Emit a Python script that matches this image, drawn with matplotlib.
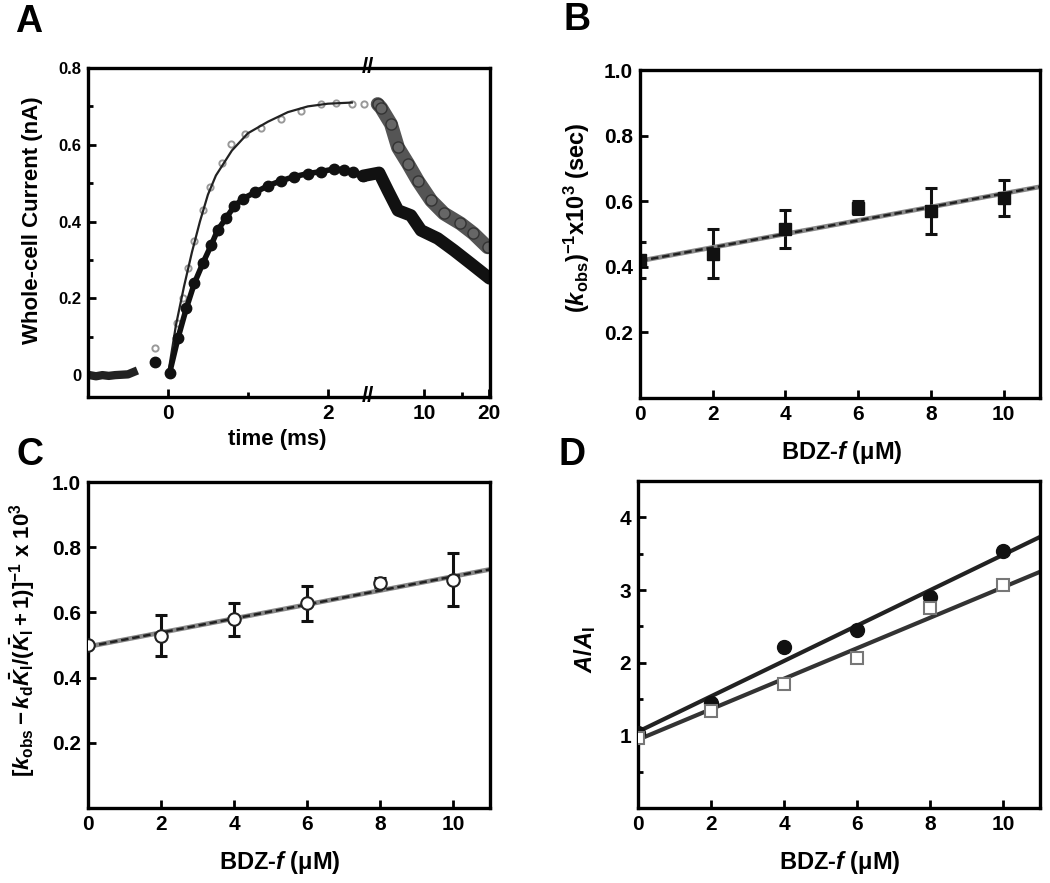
import numpy as np
import matplotlib
matplotlib.use('Agg')
import matplotlib.pyplot as plt

plt.rcParams['font.family'] = ['Liberation Sans', 'DejaVu Sans']
plt.rcParams['font.weight'] = 'bold'
plt.rcParams['mathtext.fontset'] = 'custom'
plt.rcParams['mathtext.rm'] = 'Liberation Sans:bold'
plt.rcParams['mathtext.it'] = 'Liberation Sans:bold:italic'
plt.rcParams['mathtext.bf'] = 'Liberation Sans:bold'

# ---- panel A: whole-cell current traces (time in ms) ----
base_t = [-0.98, -0.9, -0.82, -0.74, -0.66, -0.58, -0.5, -0.43]
base_i = [0.0, -0.003, 0.0, -0.002, 0.0, 0.001, 0.002, 0.008]

low_t = [-0.16, 0.02, 0.125, 0.23, 0.33, 0.44, 0.54, 0.62, 0.73, 0.83, 0.94, 1.09,
         1.25, 1.41, 1.58, 1.75, 1.91, 2.08, 2.2, 2.32, 2.44,
         6.19, 6.81, 7.58, 8.7, 9.7, 11.6, 13.8, 16.5, 20.2]
low_i = [0.034, 0.005, 0.096, 0.174, 0.239, 0.293, 0.338, 0.377, 0.41, 0.44, 0.46, 0.476,
         0.493, 0.506, 0.517, 0.525, 0.53, 0.537, 0.535, 0.528, 0.519,
         0.527, 0.48, 0.429, 0.416, 0.377, 0.356, 0.325, 0.291, 0.252]

up_rise_t = [-0.16, 0.11, 0.19, 0.25, 0.33, 0.44, 0.52, 0.67, 0.79, 0.96, 1.16, 1.41,
             1.66, 1.91, 2.1, 2.3, 2.45]
up_rise_i = [0.07, 0.135, 0.2, 0.28, 0.35, 0.43, 0.489, 0.553, 0.602, 0.628, 0.645, 0.667,
             0.688, 0.705, 0.709, 0.706, 0.706]

up_dec_t = [6.1, 6.33, 7.03, 7.58, 8.43, 9.38, 10.8, 12.4, 14.8, 17.0, 19.8]
up_dec_i = [0.706, 0.696, 0.654, 0.593, 0.551, 0.506, 0.455, 0.421, 0.395, 0.369, 0.333]

fit_a_t = [0.0, 0.1, 0.2, 0.3, 0.4, 0.5, 0.6, 0.8, 1.0, 1.25, 1.5, 1.75, 2.0, 2.3]
fit_a_i = [0.0, 0.13, 0.23, 0.32, 0.4, 0.47, 0.52, 0.585, 0.63, 0.66, 0.685, 0.7, 0.707, 0.71]

# ---- panel B ----
conc = [0, 2, 4, 6, 8, 10]
b_val = [0.42, 0.44, 0.515, 0.58, 0.57, 0.61]
b_err = [0.055, 0.075, 0.058, 0.02, 0.07, 0.055]
b_fit_x = [0, 11]
b_fit_y = [0.418, 0.644]

# ---- panel C ----
c_val = [0.5, 0.528, 0.579, 0.628, 0.689, 0.70]
c_err = [0.0, 0.063, 0.051, 0.053, 0.015, 0.081]
c_fit_x = [0, 11]
c_fit_y = [0.495, 0.732]

# ---- panel D ----
d_filled = [1.03, 1.44, 2.21, 2.45, 2.91, 3.54]
d_open = [0.96, 1.33, 1.70, 2.06, 2.75, 3.07]
d_fit_x = [0, 11]
d_fit_filled = [1.05, 3.73]
d_fit_open = [0.94, 3.25]

W, H = 1050, 883
fig = plt.figure(figsize=(10.5, 8.83), dpi=100)


def box(l, t, r, b):
    return [l / W, 1 - b / H, (r - l) / W, (b - t) / H]


def style(ax, size=15):
    for s in ax.spines.values():
        s.set_linewidth(2.4)
    ax.tick_params(which='major', direction='in', length=6, width=2, labelsize=size, pad=5)
    ax.tick_params(which='minor', direction='in', length=3.5, width=2)
    for lab in ax.get_xticklabels() + ax.get_yticklabels():
        lab.set_fontweight('bold')


# broken time axis: linear up to 2.5 ms, log from 5.5 ms onward
def fwd(t):
    t = np.asarray(t, float)
    with np.errstate(all='ignore'):
        r = 2.503 + 2.69 * np.log10(np.maximum(t, 5.5) / 5.5)
        g = 2.5 + (t - 2.5) * 1e-3
    return np.where(t <= 2.5, t, np.where(t < 5.5, g, r))


def inv(u):
    u = np.asarray(u, float)
    with np.errstate(all='ignore'):
        r = 5.5 * 10 ** ((np.minimum(u, 50) - 2.503) / 2.69)
        g = 2.5 + (u - 2.5) / 1e-3
    return np.where(u <= 2.5, u, np.where(u < 2.503, g, r))


axA = fig.add_axes(box(88, 68, 490, 397))
axA.set_xscale('function', functions=(fwd, inv))
axA.plot(base_t, base_i, '-', color='#222222', lw=6)
axA.plot(up_dec_t, up_dec_i, '-', color='#555555', lw=10, solid_capstyle='round')
axA.plot(up_dec_t, up_dec_i, 'o', mfc='#666666', mec='#333333', ms=8)
axA.plot(up_rise_t, up_rise_i, 'o', mfc='white', mec='#999999', ms=4.5, mew=1.4)
axA.plot(fit_a_t, fit_a_i, '-', color='#222222', lw=1.6)
axA.plot(low_t[1:21], low_i[1:21], '-', color='#111111', lw=4)
axA.plot(low_t[20:], low_i[20:], '-', color='#111111', lw=9, solid_capstyle='round')
axA.plot(low_t[:21], low_i[:21], 'o', color='#111111', ms=7.5)
axA.set_xlim(-1.0, 20.3)
axA.set_ylim(-0.057, 0.8)
axA.set_xticks([0, 2, 10, 20])
axA.set_xticklabels(['0', '2', '10', '20'])
axA.set_xticks([1, 15], minor=True)
axA.set_yticks([0, 0.2, 0.4, 0.6, 0.8])
axA.set_yticklabels(['0', '0.2', '0.4', '0.6', '0.8'])
axA.set_yticks([0.1, 0.3, 0.5, 0.7], minor=True)
style(axA)
axA.tick_params(axis='y', labelsize=12)
brk = (fwd(2.5) - fwd(-1.0)) / (fwd(20.3) - fwd(-1.0))
for yy in (0, 1):
    axA.text(float(brk), yy, '//', transform=axA.transAxes, ha='center', va='center',
             fontsize=16, fontweight='bold')

axB = fig.add_axes(box(640, 70, 1040, 398))
axB.errorbar(conc, b_val, yerr=b_err, fmt='s', color='#111111', ms=9,
             elinewidth=2.2, capsize=4, capthick=2.2)
axB.plot(b_fit_x, b_fit_y, '-', color='#888888', lw=3.4)
axB.plot(b_fit_x, b_fit_y, '-', color='#222222', lw=1.8, dashes=(3, 1.5))
axB.set_xlim(0, 11)
axB.set_ylim(0, 1.0)
axB.set_xticks(conc)
axB.set_yticks([0.2, 0.4, 0.6, 0.8, 1.0])
axB.set_yticklabels(['0.2', '0.4', '0.6', '0.8', '1.0'])
style(axB)

axC = fig.add_axes(box(88, 482, 490, 808))
axC.errorbar(conc, c_val, yerr=c_err, fmt='none', ecolor='#111111',
             elinewidth=2.2, capsize=4, capthick=2.2)
axC.plot(c_fit_x, c_fit_y, '-', color='#888888', lw=3.4)
axC.plot(c_fit_x, c_fit_y, '-', color='#222222', lw=1.8, dashes=(3, 1.5))
axC.plot(conc, c_val, 'o', mfc='white', mec='#222222', ms=9, mew=1.5, zorder=5)
axC.set_xlim(0, 11)
axC.set_ylim(0, 1.0)
axC.set_xticks(conc)
axC.set_yticks([0.2, 0.4, 0.6, 0.8, 1.0])
axC.set_yticklabels(['0.2', '0.4', '0.6', '0.8', '1.0'])
style(axC)

axD = fig.add_axes(box(638, 481, 1040, 808))
axD.plot(d_fit_x, d_fit_filled, '-', color='#222222', lw=3)
axD.plot(d_fit_x, d_fit_open, '-', color='#333333', lw=3)
axD.plot(conc, d_filled, 'o', color='#111111', ms=10, zorder=5)
axD.plot(conc, d_open, 's', mfc='white', mec='#777777', ms=8.5, mew=1.5, zorder=5)
axD.set_xlim(0, 11)
axD.set_ylim(0, 4.5)
axD.set_xticks(conc)
axD.set_yticks([1, 2, 3, 4])
axD.set_yticks([0.5, 1.5, 2.5, 3.5], minor=True)
style(axD)


def ftext(x, y, s, **kw):
    fig.text(x / W, 1 - y / H, s, ha='center', va='center', fontweight='bold', **kw)


ftext(29, 22, 'A', fontsize=27)
ftext(577, 20, 'B', fontsize=27)
ftext(30, 455, 'C', fontsize=27)
ftext(572, 455, 'D', fontsize=27)

ftext(33, 220, 'Whole-cell Current (nA)', fontsize=16, rotation=90)
ftext(577, 218, r'$(k_{\rm obs})^{-1}$x10$^{3}$ (sec)', fontsize=17, rotation=90)
ftext(22, 640, r'$[k_{\rm obs}-k_{\rm d}\bar{K}_{\rm I}/(\bar{K}_{\rm I}+1)]^{-1}$ x 10$^{3}$',
      fontsize=16, rotation=90)
ftext(585, 650, r'$A/A_{\rm I}$', fontsize=17, rotation=90)

ftext(277, 440, 'time (ms)', fontsize=16)
ftext(842, 452, 'BDZ-$f$ (μM)', fontsize=17)
ftext(280, 862, 'BDZ-$f$ (μM)', fontsize=17)
ftext(840, 863, 'BDZ-$f$ (μM)', fontsize=17)

fig.savefig('out.png', dpi=100)
